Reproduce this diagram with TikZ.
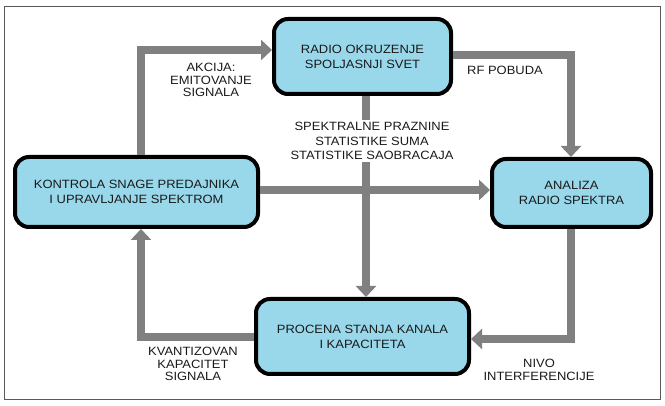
\documentclass[tikz,border=0pt]{standalone}
\usepackage{fontspec}
\setmainfont[FakeStretch=1.08]{Liberation Sans}
\usetikzlibrary{arrows.meta}
\definecolor{boxblue}{HTML}{98D8EA}
\definecolor{arrgray}{HTML}{808080}
\definecolor{txt}{HTML}{1A1A1A}
\begin{document}
\begin{tikzpicture}[x=1pt,y=-1pt,
  blk/.style={draw=black, line width=4pt, fill=boxblue, rounded corners=14pt, align=center, text=txt, font=\fontsize{12}{15}\selectfont},
  arr/.style={draw=arrgray, line width=8pt, -{Triangle[width=20pt,length=11pt]}},
  lbl/.style={font=\fontsize{12}{12.5}\selectfont, align=center, text=txt, inner sep=1pt},
  midlbl/.style={font=\fontsize{12}{14.5}\selectfont, align=center, text=txt, fill=white, inner sep=2pt}]
\useasboundingbox (0,0) rectangle (665,406);
\draw[line width=1pt, black!65] (4.5,6.5) rectangle (660.5,399.5);

\node[blk, minimum width=177pt, minimum height=75pt] (top) at (362.5,56.5) {RADIO OKRUZENJE\\SPOLJASNJI SVET};
\node[blk, minimum width=243pt, minimum height=70pt] (left) at (136.5,192) {KONTROLA SNAGE PREDAJNIKA\\I UPRAVLJANJE SPEKTROM};
\node[blk, minimum width=159pt, minimum height=68pt] (right) at (571.5,193) {ANALIZA\\RADIO SPEKTRA};
\node[blk, minimum width=213pt, minimum height=75pt] (bot) at (362.5,336.5) {PROCENA STANJA KANALA\\I KAPACITETA};

\coordinate (a1) at (141,50);
\coordinate (a2) at (571,55);
\coordinate (a3) at (0,190);
\coordinate (a4) at (366,0);
\coordinate (a5) at (571,339);
\coordinate (a6) at (141,337);

\draw[arr] (left.north -| a1) -- (a1) -- (top.west |- a1);
\draw[arr] (top.east |- a2) -- (a2) -- (right.north -| a2);
\draw[arr] (top.south -| a4) -- (bot.north -| a4);
\draw[arr] (left.east |- a3) -- (right.west |- a3);
\draw[arr] (right.south -| a5) -- (a5) -- (bot.east |- a5);
\draw[arr] (bot.west |- a6) -- (a6) -- (left.south -| a6);

\node[midlbl] (mid) at (372,141) {SPEKTRALNE PRAZNINE\\STATISTIKE SUMA\\STATISTIKE SAOBRACAJA};
\node[lbl] (akc) at (211,80) {AKCIJA:\\EMITOVANJE\\SIGNALA};
\node[lbl] (rf) at (505,70) {RF POBUDA};
\node[lbl] (kv) at (193,364) {KVANTIZOVAN\\KAPACITET\\SIGNALA};
\node[lbl] (ni) at (539,370) {NIVO\\INTERFERENCIJE};
\end{tikzpicture}
\end{document}
